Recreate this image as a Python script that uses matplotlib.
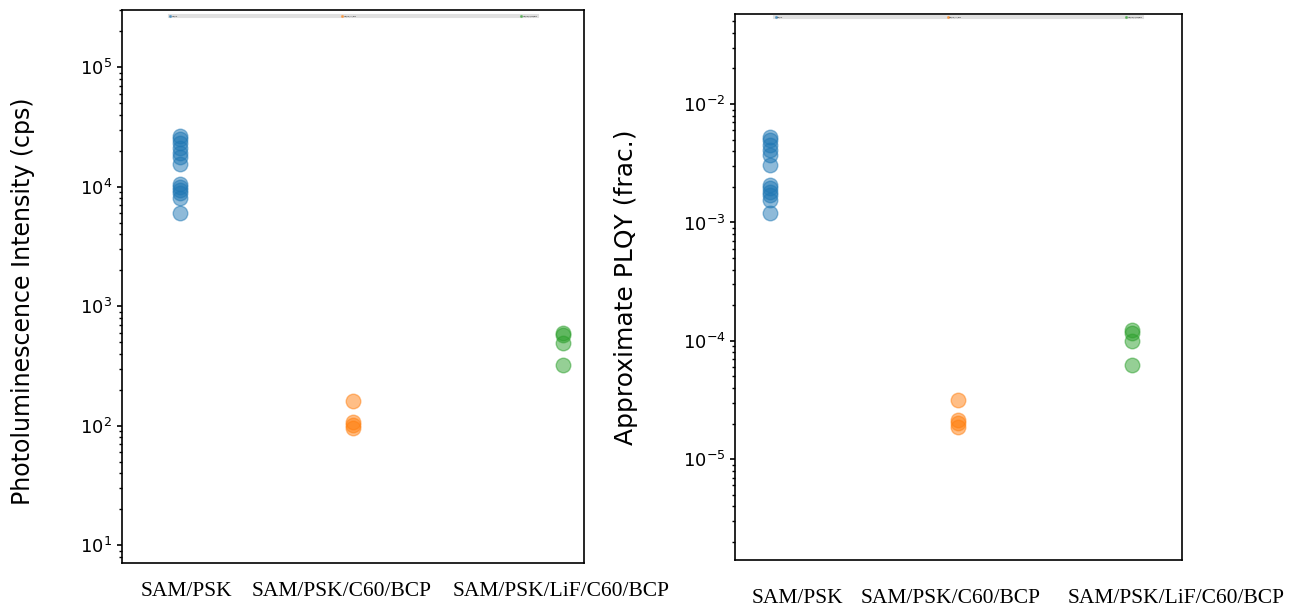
import matplotlib.pyplot as plt

groups = ['SAM/PSK', 'SAM/PSK/C60/BCP', 'SAM/PSK/LiF/C60/BCP']

# photoluminescence intensity (cps)
pl_sam_psk = [26500, 24900, 23100, 21000, 19000, 17600, 15400,
              10500, 9900, 9350, 8800, 8000, 6000]
pl_c60_bcp = [160, 107, 101, 95]
pl_lif_c60_bcp = [594, 571, 490, 321]

# approximate PLQY (fraction)
plqy_sam_psk = [5.26e-3, 4.97e-3, 4.50e-3, 4.08e-3, 3.71e-3, 3.05e-3,
                2.07e-3, 1.95e-3, 1.80e-3, 1.70e-3, 1.54e-3, 1.20e-3]
plqy_c60_bcp = [3.15e-5, 2.13e-5, 2.01e-5, 1.86e-5]
plqy_lif_c60_bcp = [1.23e-4, 1.16e-4, 9.9e-5, 6.3e-5]

colors = ['#1f77b4', '#ff7f0e', '#2ca02c']

fig = plt.figure(figsize=(12.97, 6.09), dpi=100)
ax1 = fig.add_axes([0.094, 0.0755, 0.356, 0.908])
ax2 = fig.add_axes([0.567, 0.080, 0.344, 0.897])


def panel(ax, series, xpos, labpos, ylim, ylabel, ylsize, pad, leg_box):
    for i, vals in enumerate(series):
        ax.scatter([xpos[i]] * len(vals), vals, s=110, color=colors[i],
                   alpha=0.5, label=groups[i])
    ax.set_yscale('log')
    ax.set_ylim(*ylim)
    ax.set_xlim(0, 1)
    ax.set_xticks(labpos)
    ax.set_xticklabels(groups, family='Liberation Serif', fontsize=15.5)
    ax.tick_params(axis='x', length=0, pad=pad)
    ax.tick_params(axis='y', labelsize=13, width=1.2)
    ax.tick_params(axis='y', which='minor', width=1.0)
    for sp in ax.spines.values():
        sp.set_linewidth(1.2)
    ax.set_ylabel(ylabel, fontsize=ylsize)
    # legend squeezed into a thin strip along the top
    leg = ax.legend(loc='upper left', bbox_to_anchor=leg_box, mode='expand',
                    ncol=3, fontsize=0.5, markerscale=0.12, borderpad=0.15,
                    handletextpad=0.1, frameon=True, fancybox=True)
    leg.get_frame().set_edgecolor('0.85')
    leg.get_frame().set_linewidth(1.5)


panel(ax1, [pl_sam_psk, pl_c60_bcp, pl_lif_c60_bcp],
      [0.1255, 0.5, 0.9545], [0.14, 0.476, 0.952],
      (7.1, 3.0e5), 'Photoluminescence Intensity (cps)', 17, 14,
      (0.0996, 0.0, 0.803, 0.993))
panel(ax2, [plqy_sam_psk, plqy_c60_bcp, plqy_lif_c60_bcp],
      [0.078, 0.5, 0.89], [0.139, 0.482, 0.987],
      (1.4e-6, 5.77e-2), 'Approximate PLQY (frac.)', 18, 21,
      (0.085, 0.0, 0.83, 0.998))

ax1.yaxis.set_label_coords(-0.188, 0.473)
ax2.yaxis.set_label_coords(-0.218, 0.5)

fig.savefig('out.png', dpi=100)
